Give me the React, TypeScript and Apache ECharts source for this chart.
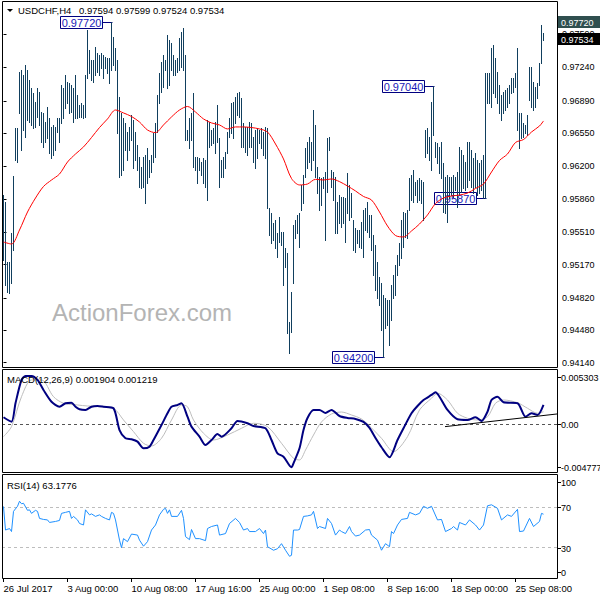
import React, { useEffect, useRef } from 'react';
import * as echarts from 'echarts';

const symbolText = 'USDCHF,H4';
const lastOHLC = ['0.97594', '0.97599', '0.97524', '0.97534'];
const macdTitle = 'MACD(12,26,9) 0.001904 0.001219';
const rsiTitle = 'RSI(14) 63.1776';
const watermark = 'ActionForex.com';

// H4 bars: highs and lows (bar index = position in array)
const highs = [
  0.9590, 0.9583, 0.9520, 0.9520, 0.9550, 0.9610, 0.9660, 0.9660, 0.9719, 0.9721,
  0.9716, 0.9727, 0.9721, 0.9711, 0.9702, 0.9697, 0.9688, 0.9702, 0.9698, 0.9677,
  0.9676, 0.9667, 0.9682, 0.9671, 0.9661, 0.9664, 0.9661, 0.9671, 0.9671, 0.9706,
  0.9702, 0.9716, 0.9709, 0.9708, 0.9706, 0.9702, 0.9716, 0.9695, 0.9685, 0.9687,
  0.9685, 0.9716, 0.9763, 0.9742, 0.9732, 0.9732, 0.9745, 0.9739, 0.9737, 0.9739,
  0.9737, 0.9735, 0.9734, 0.9734, 0.9772, 0.9756, 0.9744, 0.9732, 0.9693, 0.9676,
  0.9671, 0.9666, 0.9656, 0.9661, 0.9674, 0.9669, 0.9656, 0.9643, 0.9630, 0.9619,
  0.9630, 0.9632, 0.9639, 0.9627, 0.9632, 0.9655, 0.9666, 0.9695, 0.9718, 0.9730,
  0.9737, 0.9732, 0.9758, 0.9753, 0.9750, 0.9737, 0.9732, 0.9734, 0.9755, 0.9761,
  0.9765, 0.9737, 0.9658, 0.9671, 0.9676, 0.9697, 0.9630, 0.9630, 0.9629, 0.9625,
  0.9629, 0.9627, 0.9669, 0.9667, 0.9658, 0.9660, 0.9667, 0.9685, 0.9650, 0.9627,
  0.9630, 0.9635, 0.9656, 0.9671, 0.9687, 0.9688, 0.9693, 0.9697, 0.9698, 0.9692,
  0.9666, 0.9661, 0.9661, 0.9667, 0.9666, 0.9651, 0.9658, 0.9660, 0.9658, 0.9660,
  0.9656, 0.9661, 0.9660, 0.9576, 0.9571, 0.9561, 0.9564, 0.9550, 0.9567, 0.9551,
  0.9551, 0.9534, 0.9529, 0.9457, 0.9488, 0.9559, 0.9564, 0.9569, 0.9571, 0.9601,
  0.9611, 0.9639, 0.9646, 0.9651, 0.9646, 0.9679, 0.9664, 0.9619, 0.9609, 0.9608,
  0.9609, 0.9614, 0.9650, 0.9651, 0.9616, 0.9614, 0.9609, 0.9583, 0.9590, 0.9588,
  0.9588, 0.9587, 0.9613, 0.9601, 0.9592, 0.9564, 0.9555, 0.9553, 0.9553, 0.9562,
  0.9574, 0.9576, 0.9583, 0.9569, 0.9569, 0.9548, 0.9538, 0.9520, 0.9504, 0.9498,
  0.9485, 0.9482, 0.9480, 0.9480, 0.9496, 0.9506, 0.9517, 0.9527, 0.9540, 0.9564,
  0.9572, 0.9571, 0.9574, 0.9608, 0.9611, 0.9616, 0.9604, 0.9606, 0.9608, 0.9606,
  0.9604, 0.9658, 0.9660, 0.9651, 0.9688, 0.9704, 0.9646, 0.9645, 0.9640, 0.9646,
  0.9624, 0.9609, 0.9611, 0.9609, 0.9609, 0.9611, 0.9609, 0.9614, 0.9640, 0.9637,
  0.9632, 0.9625, 0.9646, 0.9646, 0.9637, 0.9629, 0.9634, 0.9627, 0.9624, 0.9627,
  0.9632, 0.9718, 0.9718, 0.9718, 0.9744, 0.9748, 0.9734, 0.9719, 0.9706, 0.9695,
  0.9698, 0.9700, 0.9702, 0.9706, 0.9713, 0.9713, 0.9718, 0.9744, 0.9676, 0.9676,
  0.9666, 0.9664, 0.9674, 0.9724, 0.9724, 0.9709, 0.9703, 0.9708, 0.9729, 0.9769, 0.97599,
];
const lows = [
  0.9522, 0.9496, 0.9488, 0.9487, 0.9498, 0.9532, 0.9627, 0.9625, 0.9676, 0.9637,
  0.9658, 0.9651, 0.9669, 0.9667, 0.9664, 0.9660, 0.9661, 0.9672, 0.9664, 0.9646,
  0.9640, 0.9646, 0.9650, 0.9634, 0.9629, 0.9632, 0.9637, 0.9656, 0.9646, 0.9666,
  0.9671, 0.9681, 0.9687, 0.9676, 0.9677, 0.9667, 0.9671, 0.9671, 0.9672, 0.9672,
  0.9671, 0.9672, 0.9713, 0.9718, 0.9711, 0.9709, 0.9716, 0.9719, 0.9716, 0.9723,
  0.9713, 0.9723, 0.9718, 0.9708, 0.9721, 0.9727, 0.9721, 0.9655, 0.9609, 0.9611,
  0.9616, 0.9637, 0.9627, 0.9637, 0.9648, 0.9618, 0.9627, 0.9616, 0.9598, 0.9597,
  0.9598, 0.9582, 0.9603, 0.9609, 0.9614, 0.9625, 0.9630, 0.9656, 0.9687, 0.9698,
  0.9703, 0.9721, 0.9702, 0.9706, 0.9721, 0.9716, 0.9716, 0.9719, 0.9721, 0.9724,
  0.9721, 0.9648, 0.9648, 0.9639, 0.9648, 0.9619, 0.9616, 0.9603, 0.9616, 0.9611,
  0.9603, 0.9598, 0.9585, 0.9640, 0.9643, 0.9645, 0.9634, 0.9646, 0.9598, 0.9609,
  0.9609, 0.9618, 0.9634, 0.9651, 0.9655, 0.9650, 0.9666, 0.9674, 0.9672, 0.9640,
  0.9640, 0.9635, 0.9632, 0.9640, 0.9640, 0.9625, 0.9618, 0.9629, 0.9645, 0.9639,
  0.9632, 0.9629, 0.9576, 0.9548, 0.9540, 0.9543, 0.9534, 0.9525, 0.9541, 0.9538,
  0.9496, 0.9514, 0.9445, 0.9424, 0.9446, 0.9498, 0.9545, 0.9550, 0.9535, 0.9574,
  0.9582, 0.9609, 0.9618, 0.9625, 0.9616, 0.9627, 0.9609, 0.9592, 0.9574, 0.9580,
  0.9597, 0.9543, 0.9593, 0.9637, 0.9598, 0.9585, 0.9550, 0.9550, 0.9561, 0.9556,
  0.9561, 0.9541, 0.9571, 0.9564, 0.9567, 0.9532, 0.9530, 0.9540, 0.9535, 0.9534,
  0.9525, 0.9553, 0.9551, 0.9546, 0.9532, 0.9506, 0.9490, 0.9482, 0.9475, 0.9448,
  0.9420, 0.9450, 0.9454, 0.9433, 0.9459, 0.9482, 0.9485, 0.9506, 0.9517, 0.9524,
  0.9535, 0.9546, 0.9545, 0.9574, 0.9585, 0.9583, 0.9590, 0.9583, 0.9585, 0.9582,
  0.9564, 0.9630, 0.9634, 0.9627, 0.9616, 0.9653, 0.9630, 0.9624, 0.9613, 0.9608,
  0.9572, 0.9571, 0.9562, 0.9587, 0.9590, 0.9588, 0.9595, 0.9577, 0.9590, 0.9593,
  0.9597, 0.9595, 0.9598, 0.9606, 0.9598, 0.9592, 0.9598, 0.9590, 0.9592, 0.9595,
  0.9587, 0.9587, 0.9687, 0.9687, 0.9682, 0.9697, 0.9693, 0.9687, 0.9676, 0.9669,
  0.9676, 0.9679, 0.9682, 0.9687, 0.9697, 0.9698, 0.9703, 0.9658, 0.9639, 0.9650,
  0.9651, 0.9655, 0.9653, 0.9690, 0.9682, 0.9679, 0.9682, 0.9692, 0.9706, 0.9729, 0.97524,
];

// red moving average, read every 4 bars (last point = last bar)
const maStep = 4;
const maValues = [
  0.95407, 0.95386, 0.95533, 0.95722, 0.95869, 0.95990, 0.96058, 0.96121, 0.96247, 0.96331,
  0.96405, 0.96504, 0.96609, 0.96699, 0.96793, 0.96762, 0.96725, 0.96667, 0.96583, 0.96555,
  0.96636, 0.96720, 0.96793, 0.96830, 0.96772, 0.96699, 0.96657, 0.96636, 0.96594, 0.96615,
  0.96615, 0.96609, 0.96594, 0.96562, 0.96436, 0.96279, 0.96074, 0.96006, 0.96016, 0.96065,
  0.96058, 0.96069, 0.96041, 0.95995, 0.95943, 0.95885, 0.95848, 0.95722, 0.95575, 0.95475,
  0.95460, 0.95523, 0.95596, 0.95691, 0.95811, 0.95869, 0.95890, 0.95900, 0.95921, 0.95969,
  0.96016, 0.96142, 0.96263, 0.96331, 0.96452, 0.96483, 0.96562, 0.96625, 0.96678,
];

// [bar index, value]
const macdMain: [number, number][] = [
  [0, 0.00068], [4, 0.00024], [6, 0.00205], [9, 0.00433], [11, 0.00472], [14, 0.00472], [17, 0.00433],
  [20, 0.00335], [24, 0.0022], [28, 0.00171], [31, 0.00205], [34, 0.0021], [36, 0.00171], [38, 0.00146],
  [41, 0.00139], [44, 0.00171], [47, 0.00178], [50, 0.00171], [55, 0.00156], [58, -0.00057], [61, -0.00138],
  [64, -0.00148], [67, -0.00171], [70, -0.00236], [73, -0.0022], [75, -0.00155], [79, -0.00008], [82, 0.00107],
  [84, 0.00171], [87, 0.00188], [89, 0.00205], [92, 0.00073], [94, -0.00024], [98, -0.00122], [101, -0.00204],
  [104, -0.00155], [107, -0.00096], [109, -0.00122], [114, -0.0004], [117, 0.00031], [122, 0.00009],
  [125, -0.00018], [131, -0.0004], [134, -0.00155], [137, -0.00285], [140, -0.00318], [144, -0.00422],
  [145, -0.00383], [148, -0.00236], [150, -0.00057], [152, 0.00061], [155, 0.00139], [158, 0.00139],
  [161, 0.0011], [164, 0.00139], [168, 0.0008], [172, 0.00061], [176, 0.00051], [180, 0.00022],
  [183, -0.00037], [186, -0.00135], [189, -0.00226], [193, -0.00324], [197, -0.00155], [200, -0.0004],
  [204, 0.00107], [207, 0.00178], [210, 0.00237], [214, 0.00286], [216, 0.00312], [218, 0.00269],
  [222, 0.00139], [227, 0.00048], [232, 0.00041], [236, 0.00068], [239, 0.00031], [242, 0.00122],
  [244, 0.00237], [247, 0.00269], [250, 0.00214], [257, 0.00205], [261, 0.00073], [264, 0.00107],
  [267, 0.0009], [270, 0.0019],
];
const macdSignal: [number, number][] = [
  [0, -0.00122], [4, -0.00024], [9, 0.00269], [14, 0.00433], [19, 0.00433], [25, 0.00269], [30, 0.00205],
  [37, 0.00188], [42, 0.00178], [49, 0.00171], [55, 0.00156], [60, 0.00041], [65, -0.00073], [70, -0.00187],
  [74, -0.00213], [79, -0.00138], [84, 0.00041], [89, 0.00188], [92, 0.00171], [95, 0.00041], [100, -0.00089],
  [105, -0.00155], [112, -0.00106], [119, -0.0004], [125, 0.00009], [132, -0.00024], [139, -0.00187],
  [145, -0.00334], [148, -0.0035], [151, -0.00253], [155, -0.00106], [159, 0.00022], [164, 0.001],
  [169, 0.00119], [174, 0.0009], [179, 0.00051], [184, -0.00037], [189, -0.00138], [195, -0.00269],
  [202, -0.00122], [208, 0.00139], [214, 0.00254], [217, 0.00303], [222, 0.00237], [227, 0.00107],
  [232, 0.00058], [237, 0.00041], [242, 0.00073], [246, 0.00205], [250, 0.00237], [257, 0.0021],
  [262, 0.00156], [267, 0.00107], [270, 0.00122],
];
const macdTrendline: [number, number][] = [[220.75, -0.00024], [276.75, 0.001]];

const rsiValues: [number, number][] = [
  [0, 70.8], [1, 47.5], [3, 49], [4, 46], [5, 66], [7, 71], [8, 76], [9, 73.5], [10, 74], [12, 67], [13, 67.5],
  [14, 64], [16, 67], [17, 66], [18, 59], [20, 58], [22, 57.5], [23, 55], [26, 56], [28, 57], [29, 64], [31, 65],
  [33, 66], [34, 59], [35, 61], [37, 57.5], [38, 54], [40, 52.5], [41, 67.5], [43, 62.5], [44, 63.5], [46, 61],
  [48, 62.5], [49, 61], [51, 59], [53, 57.5], [54, 65], [55, 64], [56, 57.5], [58, 37.5], [59, 30], [60, 39],
  [62, 36], [64, 43.5], [67, 42.5], [68, 37.5], [70, 31.5], [72, 36], [74, 47.5], [76, 52.5], [78, 62.5],
  [80, 68], [81, 69], [82, 64], [83, 67.5], [84, 61], [87, 61], [89, 67], [90, 59], [91, 41], [93, 38],
  [94, 48], [96, 39], [98, 39], [101, 37], [102, 49], [104, 51], [107, 52.5], [108, 42.5], [111, 44],
  [113, 54], [116, 59], [118, 55], [120, 47.5], [122, 49], [123, 46], [126, 46], [128, 49], [130, 44],
  [131, 47.5], [132, 31], [135, 27.5], [137, 29], [139, 34], [141, 27.5], [143, 21.5], [144, 22.5],
  [145, 47.5], [147, 47.5], [148, 48], [150, 61], [152, 61.5], [154, 62.5], [155, 66], [157, 49], [158, 51],
  [161, 49], [162, 59], [164, 54], [166, 42.5], [168, 47.5], [169, 46], [171, 44], [173, 51], [174, 46],
  [176, 41.5], [178, 42.5], [181, 47.5], [183, 48], [184, 42.5], [187, 37.5], [188, 32.5], [189, 27.5],
  [191, 34], [193, 31], [194, 46], [195, 44], [197, 52.5], [199, 58], [202, 59], [203, 65], [206, 62.5],
  [208, 64], [210, 71], [212, 69], [214, 71], [217, 57.5], [219, 58], [221, 46], [224, 49], [225, 51],
  [227, 47.5], [228, 55], [231, 52.5], [233, 57.5], [236, 52.5], [238, 47.5], [240, 52.5], [242, 71.5],
  [244, 72.5], [247, 69], [249, 57.5], [252, 62.5], [254, 61], [257, 68], [258, 46], [260, 46.5],
  [263, 59], [265, 51], [268, 56], [269, 64], [270, 63.2],
];

const timeLabels = ['26 Jul 2017', '3 Aug 00:00', '10 Aug 08:00', '17 Aug 16:00', '25 Aug 00:00', '1 Sep 08:00', '8 Sep 16:00', '18 Sep 00:00', '25 Sep 08:00'];
const timeLabelBars = [0, 32, 64, 96, 128, 160, 192, 224, 256];
const priceTicks = [0.9759, 0.9724, 0.9689, 0.9655, 0.962, 0.9586, 0.9551, 0.9517, 0.9482, 0.9448, 0.9414];
const macdTicks = [0.005303, 0, -0.004777];
const rsiTicks = [100, 70, 30, 0];
const rsiLevels = [70, 30];

const annBars = [54, 215, 241, 190];
const annPrices = [0.9772, 0.9704, 0.9587, 0.942];
const resistanceLine = 0.9772;
const bidPrice = 0.97534;

const FONT = '"Liberation Sans", Arial, sans-serif';
const BAR_COLOR = '#113F5E';
const X_MIN = -0.75;
const X_MAX = 277.25;
const MAIN = { top: 2, height: 365 };
const MACD = { top: 370, height: 103 };
const RSI = { top: 475, height: 103 };

export default function App() {
  const ref = useRef<HTMLDivElement>(null);
  useEffect(() => {
    if (!ref.current) return;
    const chart = echarts.init(ref.current, null, { renderer: 'svg' });
    const gridBase = { left: 2, width: 556 };
    const hiddenX = (gi: number) => ({ type: 'value', gridIndex: gi, min: X_MIN, max: X_MAX, show: false });

    const option: any = {
      animation: false,
      backgroundColor: '#ffffff',
      grid: [
        { ...gridBase, top: MAIN.top, height: MAIN.height },
        { ...gridBase, top: MACD.top, height: MACD.height },
        { ...gridBase, top: RSI.top, height: RSI.height },
      ],
      xAxis: [
        hiddenX(0),
        hiddenX(1),
        {
          type: 'value', gridIndex: 2, min: X_MIN, max: X_MAX, position: 'bottom',
          axisLine: { show: false },
          splitLine: { show: false },
          axisTick: { show: true, customValues: timeLabelBars, length: 4, lineStyle: { color: '#000' } },
          axisLabel: {
            customValues: timeLabelBars,
            formatter: (v: number) => timeLabels[timeLabelBars.indexOf(Math.round(v))] ?? '',
            align: 'left', margin: 5, fontSize: 9.5, color: '#000', fontFamily: FONT,
          },
        },
      ],
      yAxis: [
        {
          type: 'value', gridIndex: 0, position: 'right',
          min: 0.940945, max: 0.97927,
          axisLine: { show: false }, splitLine: { show: false },
          axisTick: { show: true, customValues: priceTicks, length: 3, lineStyle: { color: '#000' } },
          axisLabel: {
            customValues: priceTicks, formatter: (v: number) => v.toFixed(5),
            margin: 4, fontSize: 9, color: '#000', fontFamily: FONT,
          },
        },
        {
          type: 'value', gridIndex: 1, position: 'right', min: -0.004777, max: 0.005303,
          axisLine: { show: false }, splitLine: { show: false }, axisTick: { show: false }, axisLabel: { show: false },
        },
        {
          type: 'value', gridIndex: 2, position: 'right', min: 0, max: 102,
          axisLine: { show: false }, splitLine: { show: false }, axisTick: { show: false }, axisLabel: { show: false },
        },
      ],
      series: [
        {
          type: 'custom', name: 'annotations', xAxisIndex: 0, yAxisIndex: 0, z: 3, clip: false,
          data: annBars.map((b, k) => [b, annPrices[k]]),
          renderItem: (params: any, api: any) => {
            const pt = api.coord([api.value(0), api.value(1)]);
            const x = Math.round(pt[0]) + 0.5;
            const y = Math.round(pt[1]) + 0.5;
            const w = 42;
            const text = annPrices[params.dataIndex].toFixed(5);
            return {
              type: 'group',
              children: [
                { type: 'line', shape: { x1: x - 10, y1: y, x2: x, y2: y }, style: { stroke: '#000080', lineWidth: 1 } },
                { type: 'rect', shape: { x: x - 10 - w, y: y - 6, width: w, height: 12 }, style: { fill: '#ffffff', stroke: '#000080', lineWidth: 1 } },
                {
                  type: 'text', x: x - 10 - w / 2, y: y + 0.5,
                  style: { text, fill: '#1818B8', font: `11px ${FONT}`, textAlign: 'center', textVerticalAlign: 'middle' },
                },
              ],
            };
          },
        },
        {
          type: 'custom', name: 'bars', xAxisIndex: 0, yAxisIndex: 0, z: 4,
          data: highs.map((h, i) => [i, h, lows[i]]),
          encode: { x: 0, y: [1, 2] },
          renderItem: (params: any, api: any) => {
            const i = api.value(0);
            const a = api.coord([i, api.value(1)]);
            const b = api.coord([i, api.value(2)]);
            return {
              type: 'line',
              shape: { x1: a[0], y1: Math.round(a[1]), x2: b[0], y2: Math.round(b[1]) + 1 },
              style: { stroke: BAR_COLOR, lineWidth: 1 },
            };
          },
        },
        {
          type: 'line', name: 'MA', xAxisIndex: 0, yAxisIndex: 0, z: 5,
          data: maValues.map((v, k) => [Math.min(k * maStep, highs.length - 1), v]),
          showSymbol: false, symbol: 'none', smooth: 0.3,
          lineStyle: { color: '#FF0000', width: 1 },
          markLine: {
            z: 1, silent: true, symbol: 'none', label: { show: false },
            data: [
              { yAxis: resistanceLine, lineStyle: { color: '#2F4F4F', type: [3, 2], width: 1 } },
              { yAxis: bidPrice, lineStyle: { color: '#C0C0C0', type: 'solid', width: 1 } },
            ],
          },
        },
        {
          type: 'line', name: 'Signal', xAxisIndex: 1, yAxisIndex: 1, z: 3,
          data: macdSignal, showSymbol: false, symbol: 'none', smooth: 0.3,
          lineStyle: { color: '#BDBDBD', width: 1 },
          markLine: {
            z: 2, silent: true, symbol: 'none', label: { show: false },
            data: [{ yAxis: 0, lineStyle: { color: '#555555', type: [3, 3], width: 1 } }],
          },
        },
        {
          type: 'line', name: 'MACD', xAxisIndex: 1, yAxisIndex: 1, z: 4,
          data: macdMain, showSymbol: false, symbol: 'none', smooth: 0.25,
          lineStyle: { color: '#000080', width: 2 },
          markLine: {
            z: 5, silent: true, symbol: 'none', label: { show: false },
            data: [[
              { coord: macdTrendline[0], lineStyle: { color: '#000', type: 'solid', width: 1 } },
              { coord: macdTrendline[1] },
            ]],
          },
        },
        {
          type: 'line', name: 'RSI', xAxisIndex: 2, yAxisIndex: 2, z: 4,
          data: rsiValues, showSymbol: false, symbol: 'none',
          lineStyle: { color: '#1E90FF', width: 1 },
          markLine: {
            z: 2, silent: true, symbol: 'none', label: { show: false },
            data: rsiLevels.map((v) => ({ yAxis: v, lineStyle: { color: '#BDBDBD', type: [3, 3], width: 1 } })),
          },
        },
      ],
    };
    chart.setOption(option);

    const g: any[] = [];
    const frame = (y0: number, y1: number) => ({
      type: 'rect', silent: true, z: 100,
      shape: { x: 2.5, y: y0 + 0.5, width: 555, height: y1 - y0 },
      style: { fill: 'none', stroke: '#000', lineWidth: 1 },
    });
    g.push(frame(1, 367), frame(369, 472), frame(474, 578));

    const txt = (x: number, y: number, text: string, size: number, fill = '#000', extra: any = {}) => ({
      type: 'text', x, y, z: 102, silent: true,
      style: { text, fill, font: `${size}px ${FONT}`, textVerticalAlign: 'middle', ...extra },
    });

    // header
    g.push({ type: 'polygon', z: 102, shape: { points: [[7, 9], [13, 9], [10, 12]] }, style: { fill: '#000' } });
    g.push(txt(18, 10.5, symbolText, 9.5));
    g.push(txt(79, 10.5, lastOHLC.join(' '), 9.5));
    g.push(txt(7, 379.5, macdTitle, 9.5));
    g.push(txt(7, 485.5, rsiTitle, 9.5));
    g.push({
      type: 'text', left: 52, top: 300, z: 1, silent: true,
      style: { text: watermark, fill: '#B4B4B4', font: `24px ${FONT}` },
    });

    // current price / line labels at the right scale
    [{ v: resistanceLine, bg: '#2F4F4F' }, { v: bidPrice, bg: '#000000' }].forEach(({ v, bg }) => {
      const y = Math.round(chart.convertToPixel({ yAxisIndex: 0 }, v) as number);
      g.push({ type: 'rect', z: 101, shape: { x: 558, y: y - 6, width: 42, height: 12 }, style: { fill: bg } });
      g.push(txt(561, y + 0.5, v.toFixed(5), 9, '#fff'));
    });

    const sideLabels = (axis: number, ticks: number[], top: number, height: number, fmt: (v: number) => string) => {
      ticks.forEach((v) => {
        let y = chart.convertToPixel({ yAxisIndex: axis }, v) as number;
        y = Math.max(top + 7, Math.min(top + height - 6, y));
        y = Math.round(y);
        g.push({ type: 'line', z: 101, shape: { x1: 558, y1: y + 0.5, x2: 561, y2: y + 0.5 }, style: { stroke: '#000', lineWidth: 1 } });
        g.push(txt(561, y + 0.5, fmt(v), 9));
      });
    };
    sideLabels(1, macdTicks, MACD.top, MACD.height, (v) => (v === 0 ? '0.00' : v.toFixed(6)));
    sideLabels(2, rsiTicks, RSI.top, RSI.height, (v) => String(v));

    chart.setOption({ graphic: g });
    return () => chart.dispose();
  }, []);
  return (
    <div
      ref={ref}
      style={{ position: 'absolute', left: 0, top: 0, width: 600, height: 600, background: '#fff' }}
    />
  );
}
